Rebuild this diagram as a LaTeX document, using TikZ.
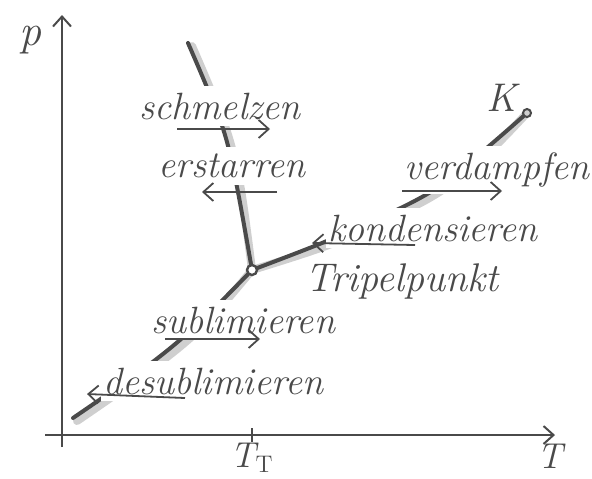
\documentclass[tikz,border=0pt]{standalone}
\usepackage{xcolor}
\definecolor{pencil}{HTML}{4A4A4A}
\definecolor{smudge}{HTML}{CFCFCF}
\usepackage{tikz}
\usetikzlibrary{arrows.meta}

\begin{document}
\begin{tikzpicture}[x=0.5pt,y=-0.5pt,>={Straight Barb[length=5pt,width=9pt]}]
    \tikzset{
      axisline/.style={pencil,line width=1pt},
      phaseline/.style={pencil,line width=2pt,line cap=round},
      smear/.style={smudge,line width=4pt,line cap=round,shift={(4,3)}},
      trans/.style={->,pencil,line width=0.9pt},
      word/.style={pencil,font=\fontsize{19}{22}\selectfont\itshape,fill=white,inner xsep=1pt,inner ysep=3.5pt},
    }
    \useasboundingbox (0,0) rectangle (592,478);
    % axes
    \coordinate (O) at (62,435);
    \coordinate (pbot) at (62,447);
    \coordinate (ptop) at (62,15);
    \coordinate (Tleft) at (45,435);
    \coordinate (Tright) at (555,435);
    \draw[axisline,->] (pbot) -- (ptop);
    \draw[axisline,->] (Tleft) -- (Tright);
    \node[pencil,font=\fontsize{22}{24}\selectfont\itshape] (plabel) at (30,40) {p};
    \node[pencil,font=\fontsize{18}{20}\selectfont\itshape] (Tlabel) at (550,456) {T};
    \coordinate (tp) at (252,270);
    \coordinate (tickA) at (252,428);
    \coordinate (tickB) at (252,442);
    \draw[axisline] (tickA) -- (tickB);
    \node[pencil,font=\fontsize{18}{20}\selectfont\itshape] (TT) at (252,458) {T$_{\mathrm{T}}$};
    % phase boundaries (shade first)
    \coordinate (K) at (527,113);
    \foreach \sty in {smear,phaseline}{
      \draw[\sty] plot[smooth,tension=0.6] coordinates {(188,43) (208,90) (225,135) (237,187) (tp)};
      \draw[\sty] plot[smooth,tension=0.6] coordinates {(73,418) (150,364) (200,322) (tp)};
      \draw[\sty] plot[smooth,tension=0.6] coordinates {(tp) (322,243) (382,217) (437,188) (482,152) (K)};
    }
    % labels of the transitions
    \node[word] (schmelzen) at (220,106) {schmelzen};
    \node[word] (erstarren) at (232,166) {erstarren};
    \node[word] (verdampfen) at (497,170) {verdampfen};
    \node[word] (kondensieren) at (433,228) {kondensieren};
    \node[word] (sublimieren) at (243,320) {sublimieren};
    \node[word] (desublimieren) at (213,381) {desublimieren};
    \node[pencil,font=\fontsize{20}{22}\selectfont\itshape] (tripel) at (402,281) {Tripelpunkt};
    \node[pencil,font=\fontsize{20}{22}\selectfont\itshape] (Klabel) at (502,98) {K};
    % arrows
    \coordinate (schmA) at (177,129);  \coordinate (schmB) at (270,129);
    \coordinate (erstA) at (277,192);  \coordinate (erstB) at (202,192);
    \coordinate (verdA) at (402,191);  \coordinate (verdB) at (502,191);
    \coordinate (kondA) at (415,245);  \coordinate (kondB) at (312,243);
    \coordinate (sublA) at (165,339);  \coordinate (sublB) at (260,339);
    \coordinate (desuA) at (185,398);  \coordinate (desuB) at (87,394);
    \draw[trans] (schmA) -- (schmB);
    \draw[trans] (erstA) -- (erstB);
    \draw[trans] (verdA) -- (verdB);
    \draw[trans] (kondA) -- (kondB);
    \draw[trans] (sublA) -- (sublB);
    \draw[trans] (desuA) -- (desuB);
    % points
    \draw[pencil,line width=1.2pt,fill=white] (tp) circle[radius=5];
    \draw[pencil,line width=1pt,fill=smudge] (K) circle[radius=4];
  \end{tikzpicture}
\end{document}
